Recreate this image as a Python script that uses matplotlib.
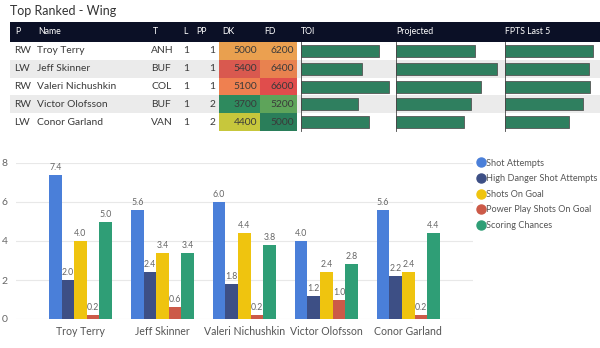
import numpy as np
import matplotlib.pyplot as plt
from matplotlib.patches import Rectangle

plt.rcParams['font.family'] = ['Lato', 'DejaVu Sans']

# ---- table data ----
positions = ["RW", "LW", "RW", "RW", "LW"]
players = ["Troy Terry", "Jeff Skinner", "Valeri Nichushkin", "Victor Olofsson", "Conor Garland"]
teams = ["ANH", "BUF", "COL", "BUF", "VAN"]
lines = [1, 1, 1, 1, 1]
pp_units = [1, 1, 1, 2, 2]
dk_salary = [5000, 5400, 5100, 3700, 4400]
fd_salary = [6200, 6400, 6600, 5200, 5000]
dk_colors = ["#e9a04f", "#d9594f", "#ef8050", "#2e8a5e", "#c7c73c"]
fd_colors = ["#eba050", "#e8824f", "#e04d4c", "#5ea45a", "#2a7e5a"]
toi = [17.6, 13.8, 19.9, 12.9, 15.4]
projected = [13.1, 16.8, 14.1, 12.5, 11.3]
fpts_last5 = [14.8, 14.0, 14.3, 13.0, 10.7]

# ---- chart data ----
series = ["Shot Attempts", "High Danger Shot Attempts", "Shots On Goal",
          "Power Play Shots On Goal", "Scoring Chances"]
shot_attempts = [7.4, 5.6, 6.0, 4.0, 5.6]
high_danger = [2.0, 2.4, 1.8, 1.2, 2.2]
shots_on_goal = [4.0, 3.4, 4.4, 2.4, 2.4]
pp_shots = [0.2, 0.6, 0.2, 1.0, 0.2]
scoring_chances = [5.0, 3.4, 3.8, 2.8, 4.4]
series_colors = ["#4a7fd9", "#3d4f85", "#efc40f", "#cc5a48", "#2f9e76"]

W, H = 600, 348
fig = plt.figure(figsize=(W / 100, H / 100), dpi=100)

# ================= table (pixel-coordinate overlay) =================
tab = fig.add_axes([0, 0, 1, 1])
tab.set_xlim(0, W)
tab.set_ylim(H, 0)
tab.axis("off")

tab.text(10, 11, "Top Ranked - Wing", fontsize=9, color="#333333", va="center")
tab.add_patch(Rectangle((10, 22), 590, 20, color="#0b1026", lw=0))
headers = [("P", 15), ("Name", 38), ("T", 153), ("L", 183), ("PP", 196),
           ("DK", 222), ("FD", 264), ("TOI", 301), ("Projected", 396), ("FPTS Last 5", 505)]
for txt, x in headers:
    tab.text(x, 31, txt, color="white", fontsize=6.3, va="center")

row_top, row_h = 42, 17.8
bar_cols = [(toi, 301, 95), (projected, 396, 109), (fpts_last5, 505, 95)]
for i in range(len(players)):
    y0 = row_top + i * row_h
    yc = y0 + row_h / 2
    if i % 2 == 1:
        tab.add_patch(Rectangle((10, y0), 590, row_h, color="#ebebeb", lw=0))
    tab.add_patch(Rectangle((219, y0), 41, row_h, color=dk_colors[i], lw=0))
    tab.add_patch(Rectangle((260, y0), 37, row_h, color=fd_colors[i], lw=0))
    kw = dict(fontsize=7.4, color="#3a3a3a", va="center")
    tab.text(14, yc, positions[i], **kw)
    tab.text(37, yc, players[i], **kw)
    tab.text(151, yc, teams[i], **kw)
    tab.text(183, yc, str(lines[i]), **kw)
    tab.text(215, yc, str(pp_units[i]), ha="right", **kw)
    tab.text(257, yc, str(dk_salary[i]), ha="right", **kw)
    tab.text(294, yc, str(fd_salary[i]), ha="right", **kw)

for vals, x0, cw in bar_cols:
    scale = 0.93 * cw / max(vals)
    ys = [row_top + i * row_h + row_h / 2 for i in range(len(vals))]
    tab.barh(ys, [v * scale for v in vals], left=x0, height=12,
             color="#2f7f5f", edgecolor="#555555", linewidth=0.6)
    tab.plot([x0, x0], [row_top, row_top + 5 * row_h], color="#444444", lw=0.6)

# ================= grouped bar chart =================
ax = fig.add_axes([16 / W, (H - 319) / H, (473 - 16) / W, (319 - 163) / H])
ax.patch.set_alpha(0)
x = np.arange(len(players))
bw = 0.154
data = [shot_attempts, high_danger, shots_on_goal, pp_shots, scoring_chances]
for k, (vals, col) in enumerate(zip(data, series_colors)):
    xs = x + (k - 2) * bw
    ax.bar(xs, vals, width=bw, color=col, zorder=2)
    for xx, v in zip(xs, vals):
        ax.text(xx, v + 0.15, f"{v:.1f}", ha="center", va="bottom",
                fontsize=6.3, color="#666666")

ax.set_xlim(-0.787, 4.79)
ax.set_ylim(0, 8)
ax.set_yticks([0, 2, 4, 6, 8])
ax.set_yticklabels(["0", "2", "4", "6", "8"])
ax.grid(axis="y", color="#e8e8e8", lw=0.8, zorder=0)
ax.set_xticks(x)
ax.set_xticklabels(players)
ax.tick_params(axis="x", length=0, labelsize=7.6, labelcolor="#555555", pad=5)
ax.tick_params(axis="y", length=0, labelsize=7.5, labelcolor="#666666", pad=6)
for s in ax.spines.values():
    s.set_visible(False)

# legend with circle markers
handles = [plt.Line2D([], [], marker="o", ls="", markersize=6.5, color=c) for c in series_colors]
fig.legend(handles, series, loc="upper left", bbox_to_anchor=(473 / W, 1 - 155 / H),
           frameon=False, fontsize=6.6, handletextpad=0.0, labelspacing=0.72,
           handlelength=1.0, borderaxespad=0, labelcolor="#555555")

fig.savefig("out.png", dpi=100)
